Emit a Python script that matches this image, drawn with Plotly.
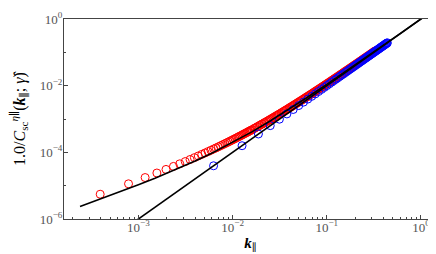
import plotly.graph_objects as go

# Blue data (circles)
k_blue = [0.00628, 0.0126, 0.0188, 0.0251, 0.0314, 0.0377, 0.0440, 0.0503, 0.0565, 0.0628,
          0.0691, 0.0754, 0.0817, 0.0880, 0.0942, 0.1005, 0.1068, 0.1131, 0.1194, 0.1257,
          0.1382, 0.1508, 0.1634, 0.1759, 0.1885, 0.2011, 0.2136, 0.2262, 0.2388, 0.2513,
          0.2639, 0.2765, 0.2890, 0.3016, 0.3142, 0.3267, 0.3393, 0.3519, 0.3644, 0.3770,
          0.3896, 0.4021, 0.4147, 0.4273, 0.4398]
y_blue = [3.95e-5, 1.58e-4, 3.55e-4, 6.32e-4, 9.87e-4, 1.42e-3, 1.93e-3, 2.53e-3, 3.20e-3, 3.95e-3,
          4.78e-3, 5.68e-3, 6.67e-3, 7.74e-3, 8.88e-3, 1.01e-2, 1.14e-2, 1.28e-2, 1.43e-2, 1.58e-2,
          1.91e-2, 2.27e-2, 2.67e-2, 3.10e-2, 3.55e-2, 4.04e-2, 4.56e-2, 5.12e-2, 5.70e-2, 6.32e-2,
          6.96e-2, 7.64e-2, 8.35e-2, 9.10e-2, 9.87e-2, 0.1067, 0.1151, 0.1238, 0.1328, 0.1421,
          0.1518, 0.1617, 0.1720, 0.1825, 0.1934]
k_blue_b = [0.1319, 0.1445, 0.1571, 0.1696, 0.1822, 0.1948, 0.2073, 0.2199, 0.2325, 0.2450,
            0.2576, 0.2702, 0.2827, 0.2953, 0.3079, 0.3204, 0.3330, 0.3456, 0.3581, 0.3707,
            0.3833, 0.3958, 0.4084, 0.4210, 0.4335]
y_blue_b = [1.741e-2, 2.088e-2, 2.467e-2, 2.878e-2, 3.320e-2, 3.794e-2, 4.299e-2, 4.836e-2, 5.405e-2, 6.005e-2,
            6.636e-2, 7.300e-2, 7.995e-2, 8.721e-2, 9.479e-2, 0.1027, 0.1109, 0.1194, 0.1283, 0.1374,
            0.1469, 0.1567, 0.1668, 0.1772, 0.1880]

# Red data (circles)
k_red = [3.927e-4, 7.854e-4, 1.178e-3, 1.571e-3, 1.963e-3, 2.356e-3, 2.749e-3, 3.142e-3, 3.534e-3, 3.927e-3,
         4.320e-3, 4.712e-3, 5.105e-3, 5.498e-3, 5.890e-3, 6.283e-3, 6.676e-3, 7.069e-3, 7.461e-3, 7.854e-3,
         8.247e-3, 8.639e-3, 9.032e-3, 9.425e-3, 9.817e-3, 1.021e-2, 1.060e-2, 1.100e-2, 1.139e-2, 1.178e-2,
         1.257e-2, 1.335e-2, 1.414e-2, 1.492e-2, 1.571e-2, 1.689e-2, 1.806e-2, 1.924e-2, 2.042e-2, 2.160e-2,
         2.278e-2, 2.435e-2, 2.592e-2, 2.749e-2, 2.906e-2, 3.063e-2, 3.259e-2, 3.456e-2, 3.652e-2, 3.849e-2,
         4.084e-2, 4.320e-2, 4.555e-2, 4.830e-2, 5.105e-2, 5.380e-2, 5.694e-2, 6.008e-2, 6.362e-2, 6.715e-2,
         7.108e-2, 7.501e-2, 7.933e-2, 8.365e-2, 8.836e-2, 9.346e-2, 9.857e-2, 0.1041, 0.1100, 0.1162,
         0.1225, 0.1296, 0.1367, 0.1441, 0.1524, 0.1610, 0.1700, 0.1795, 0.1897, 0.2003,
         0.2113, 0.2231, 0.2356, 0.2486, 0.2623, 0.2769, 0.2926, 0.3087, 0.3259]
y_red = [5.534e-6, 1.138e-5, 1.753e-5, 2.399e-5, 3.075e-5, 3.783e-5, 4.522e-5, 5.291e-5, 6.091e-5, 6.922e-5,
         7.785e-5, 8.676e-5, 9.600e-5, 1.056e-4, 1.154e-4, 1.256e-4, 1.360e-4, 1.468e-4, 1.579e-4, 1.693e-4,
         1.810e-4, 1.930e-4, 2.053e-4, 2.180e-4, 2.309e-4, 2.441e-4, 2.577e-4, 2.716e-4, 2.857e-4, 3.002e-4,
         3.301e-4, 3.612e-4, 3.935e-4, 4.271e-4, 4.619e-4, 5.165e-4, 5.738e-4, 6.339e-4, 6.967e-4, 7.624e-4,
         8.308e-4, 9.263e-4, 1.027e-3, 1.132e-3, 1.243e-3, 1.358e-3, 1.509e-3, 1.668e-3, 1.834e-3, 2.008e-3,
         2.228e-3, 2.458e-3, 2.699e-3, 2.995e-3, 3.306e-3, 3.632e-3, 4.023e-3, 4.433e-3, 4.919e-3, 5.429e-3,
         6.026e-3, 6.654e-3, 7.379e-3, 8.142e-3, 9.018e-3, 1.002e-2, 1.107e-2, 1.226e-2, 1.360e-2, 1.510e-2,
         1.669e-2, 1.857e-2, 2.055e-2, 2.275e-2, 2.530e-2, 2.813e-2, 3.124e-2, 3.466e-2, 3.857e-2, 4.286e-2,
         4.753e-2, 5.281e-2, 5.875e-2, 6.520e-2, 7.241e-2, 8.044e-2, 8.960e-2, 9.950e-2, 0.1107]
k_red_b = [1.2174e-2, 1.2959e-2, 1.3745e-2, 1.4530e-2, 1.5315e-2, 1.6101e-2, 1.7279e-2, 1.8457e-2, 1.9635e-2, 2.0813e-2,
           2.1991e-2, 2.3562e-2, 2.5133e-2, 2.6704e-2, 2.8274e-2, 2.9845e-2, 3.1416e-2, 3.3380e-2, 3.5343e-2, 3.7307e-2,
           3.9663e-2, 4.2019e-2, 4.4375e-2, 4.6731e-2, 4.9480e-2, 5.2229e-2, 5.5371e-2, 5.8512e-2, 6.1654e-2, 6.5188e-2,
           6.9115e-2, 7.3042e-2, 7.6969e-2, 8.1289e-2, 8.6001e-2, 9.0714e-2, 9.5819e-2, 0.10132, 0.10681, 0.11310,
           0.11938, 0.12606, 0.13313, 0.14019, 0.14805, 0.15669, 0.16533, 0.17475, 0.18457, 0.19478,
           0.20577, 0.21716, 0.22934, 0.24190, 0.25526, 0.26939, 0.28471, 0.30042, 0.31730]
y_red_b = [3.150e-4, 3.455e-4, 3.772e-4, 4.102e-4, 4.444e-4, 4.798e-4, 5.353e-4, 5.935e-4, 6.545e-4, 7.183e-4,
           7.849e-4, 8.780e-4, 9.760e-4, 1.0789e-3, 1.1868e-3, 1.2996e-3, 1.4174e-3, 1.5715e-3, 1.7333e-3, 1.9029e-3,
           2.1165e-3, 2.3413e-3, 2.5771e-3, 2.8240e-3, 3.1262e-3, 3.4434e-3, 3.8245e-3, 4.2253e-3, 4.6458e-3, 5.1426e-3,
           5.7238e-3, 6.3358e-3, 6.9787e-3, 7.7216e-3, 8.5744e-3, 9.4718e-3, 1.0494e-2, 1.1654e-2, 1.2872e-2, 1.4341e-2,
           1.5887e-2, 1.7618e-2, 1.9547e-2, 2.1574e-2, 2.3947e-2, 2.6698e-2, 2.9599e-2, 3.2932e-2, 3.6595e-2, 4.0608e-2,
           4.5161e-2, 5.0134e-2, 5.5739e-2, 6.1830e-2, 6.8655e-2, 7.6262e-2, 8.4961e-2, 9.4368e-2, 0.10503]

# Black curve (fit through red)
k_curve = [2.4e-4, 4e-4, 7e-4, 1e-3, 1.5e-3, 2.5e-3, 4e-3, 6e-3, 1e-2, 1.6e-2,
           2.5e-2, 4e-2, 6e-2, 0.1, 0.16, 0.25, 0.4, 0.6, 1.0, 1.3]
y_curve = [2.386e-6, 4.04e-6, 7.28e-6, 1.07e-5, 1.68e-5, 3.05e-5, 5.48e-5, 9.42e-5, 1.97e-4, 4.11e-4,
           8.68e-4, 1.99e-3, 4.18e-3, 1.097e-2, 2.715e-2, 6.49e-2, 0.1639, 0.3658, 1.0097, 1.703]

# Black straight line (k^2)
k_line = [2.4e-4, 1.3]
y_line = [5.76e-8, 1.69]

x_tick_vals = [1e-3, 1e-2, 1e-1, 1]
x_tick_text = ["10<sup>−3</sup>", "10<sup>−2</sup>", "10<sup>−1</sup>", "10<sup>0</sup>"]
y_tick_vals = [1e-6, 1e-4, 1e-2, 1]
y_tick_text = ["10<sup>−6</sup>", "10<sup>−4</sup>", "10<sup>−2</sup>", "10<sup>0</sup>"]

red_x = k_red + k_red_b
red_y = y_red + y_red_b
blue_x = k_blue + k_blue_b
blue_y = y_blue + y_blue_b

fig = go.Figure()
fig.add_trace(go.Scatter(x=red_x, y=red_y, mode="markers",
                         marker=dict(symbol="circle-open", size=8, color="#ff0000",
                                     line=dict(width=1, color="#ff0000"))))
fig.add_trace(go.Scatter(x=blue_x, y=blue_y, mode="markers",
                         marker=dict(symbol="circle-open", size=8, color="#0000ff",
                                     line=dict(width=1, color="#0000ff"))))
fig.add_trace(go.Scatter(x=k_curve, y=y_curve, mode="lines",
                         line=dict(color="black", width=1.6)))
fig.add_trace(go.Scatter(x=k_line, y=y_line, mode="lines",
                         line=dict(color="black", width=1.6)))

minor_x = [m * 10 ** e for e in range(-4, 1) for m in range(2, 10)]
minor_y = [10 ** e for e in range(-6, 0) if e % 2 != 0]

font_family = "Liberation Serif, DejaVu Serif, serif"

fig.update_layout(
    width=436, height=254,
    margin=dict(l=56, r=7, t=11, b=43),
    paper_bgcolor="white", plot_bgcolor="white",
    showlegend=False,
    font=dict(family=font_family, size=12, color="#333"),
    xaxis=dict(
        type="log", range=[-3.79, 0.17], automargin=False,
        tickvals=x_tick_vals, ticktext=x_tick_text,
        ticks="inside", ticklen=4, tickwidth=1, tickcolor="#444",
        ticklabelstandoff=-4,
        showline=True, linecolor="#444", linewidth=1, mirror=True,
        showgrid=False, zeroline=False,
        tickfont=dict(size=13, color="#555"),
        minor=dict(tickvals=minor_x, ticks="inside", ticklen=2, tickwidth=0.8, tickcolor="#444", showgrid=False),
        title=dict(text="<b><i>k</i></b><sub>∥</sub>", font=dict(size=15, color="black"), standoff=0),
    ),
    yaxis=dict(
        type="log", range=[-6, 0], automargin=False,
        tickvals=y_tick_vals, ticktext=y_tick_text,
        ticks="inside", ticklen=4, tickwidth=1, tickcolor="#444",
        ticklabelstandoff=-2,
        showline=True, linecolor="#444", linewidth=1, mirror=True,
        showgrid=False, zeroline=False,
        tickfont=dict(size=13, color="#555"),
        minor=dict(tickvals=minor_y, ticks="inside", ticklen=2, tickwidth=0.8, tickcolor="#444", showgrid=False),
        title=dict(text="1.0/<i>C</i><sub>sc</sub><sup><i>η</i>∥</sup>(<b><i>k</i></b><sub>∥</sub>; <i>γ̂</i>)",
                   font=dict(size=16, color="black"), standoff=18),
    ),
)

fig.write_html("out.html")
